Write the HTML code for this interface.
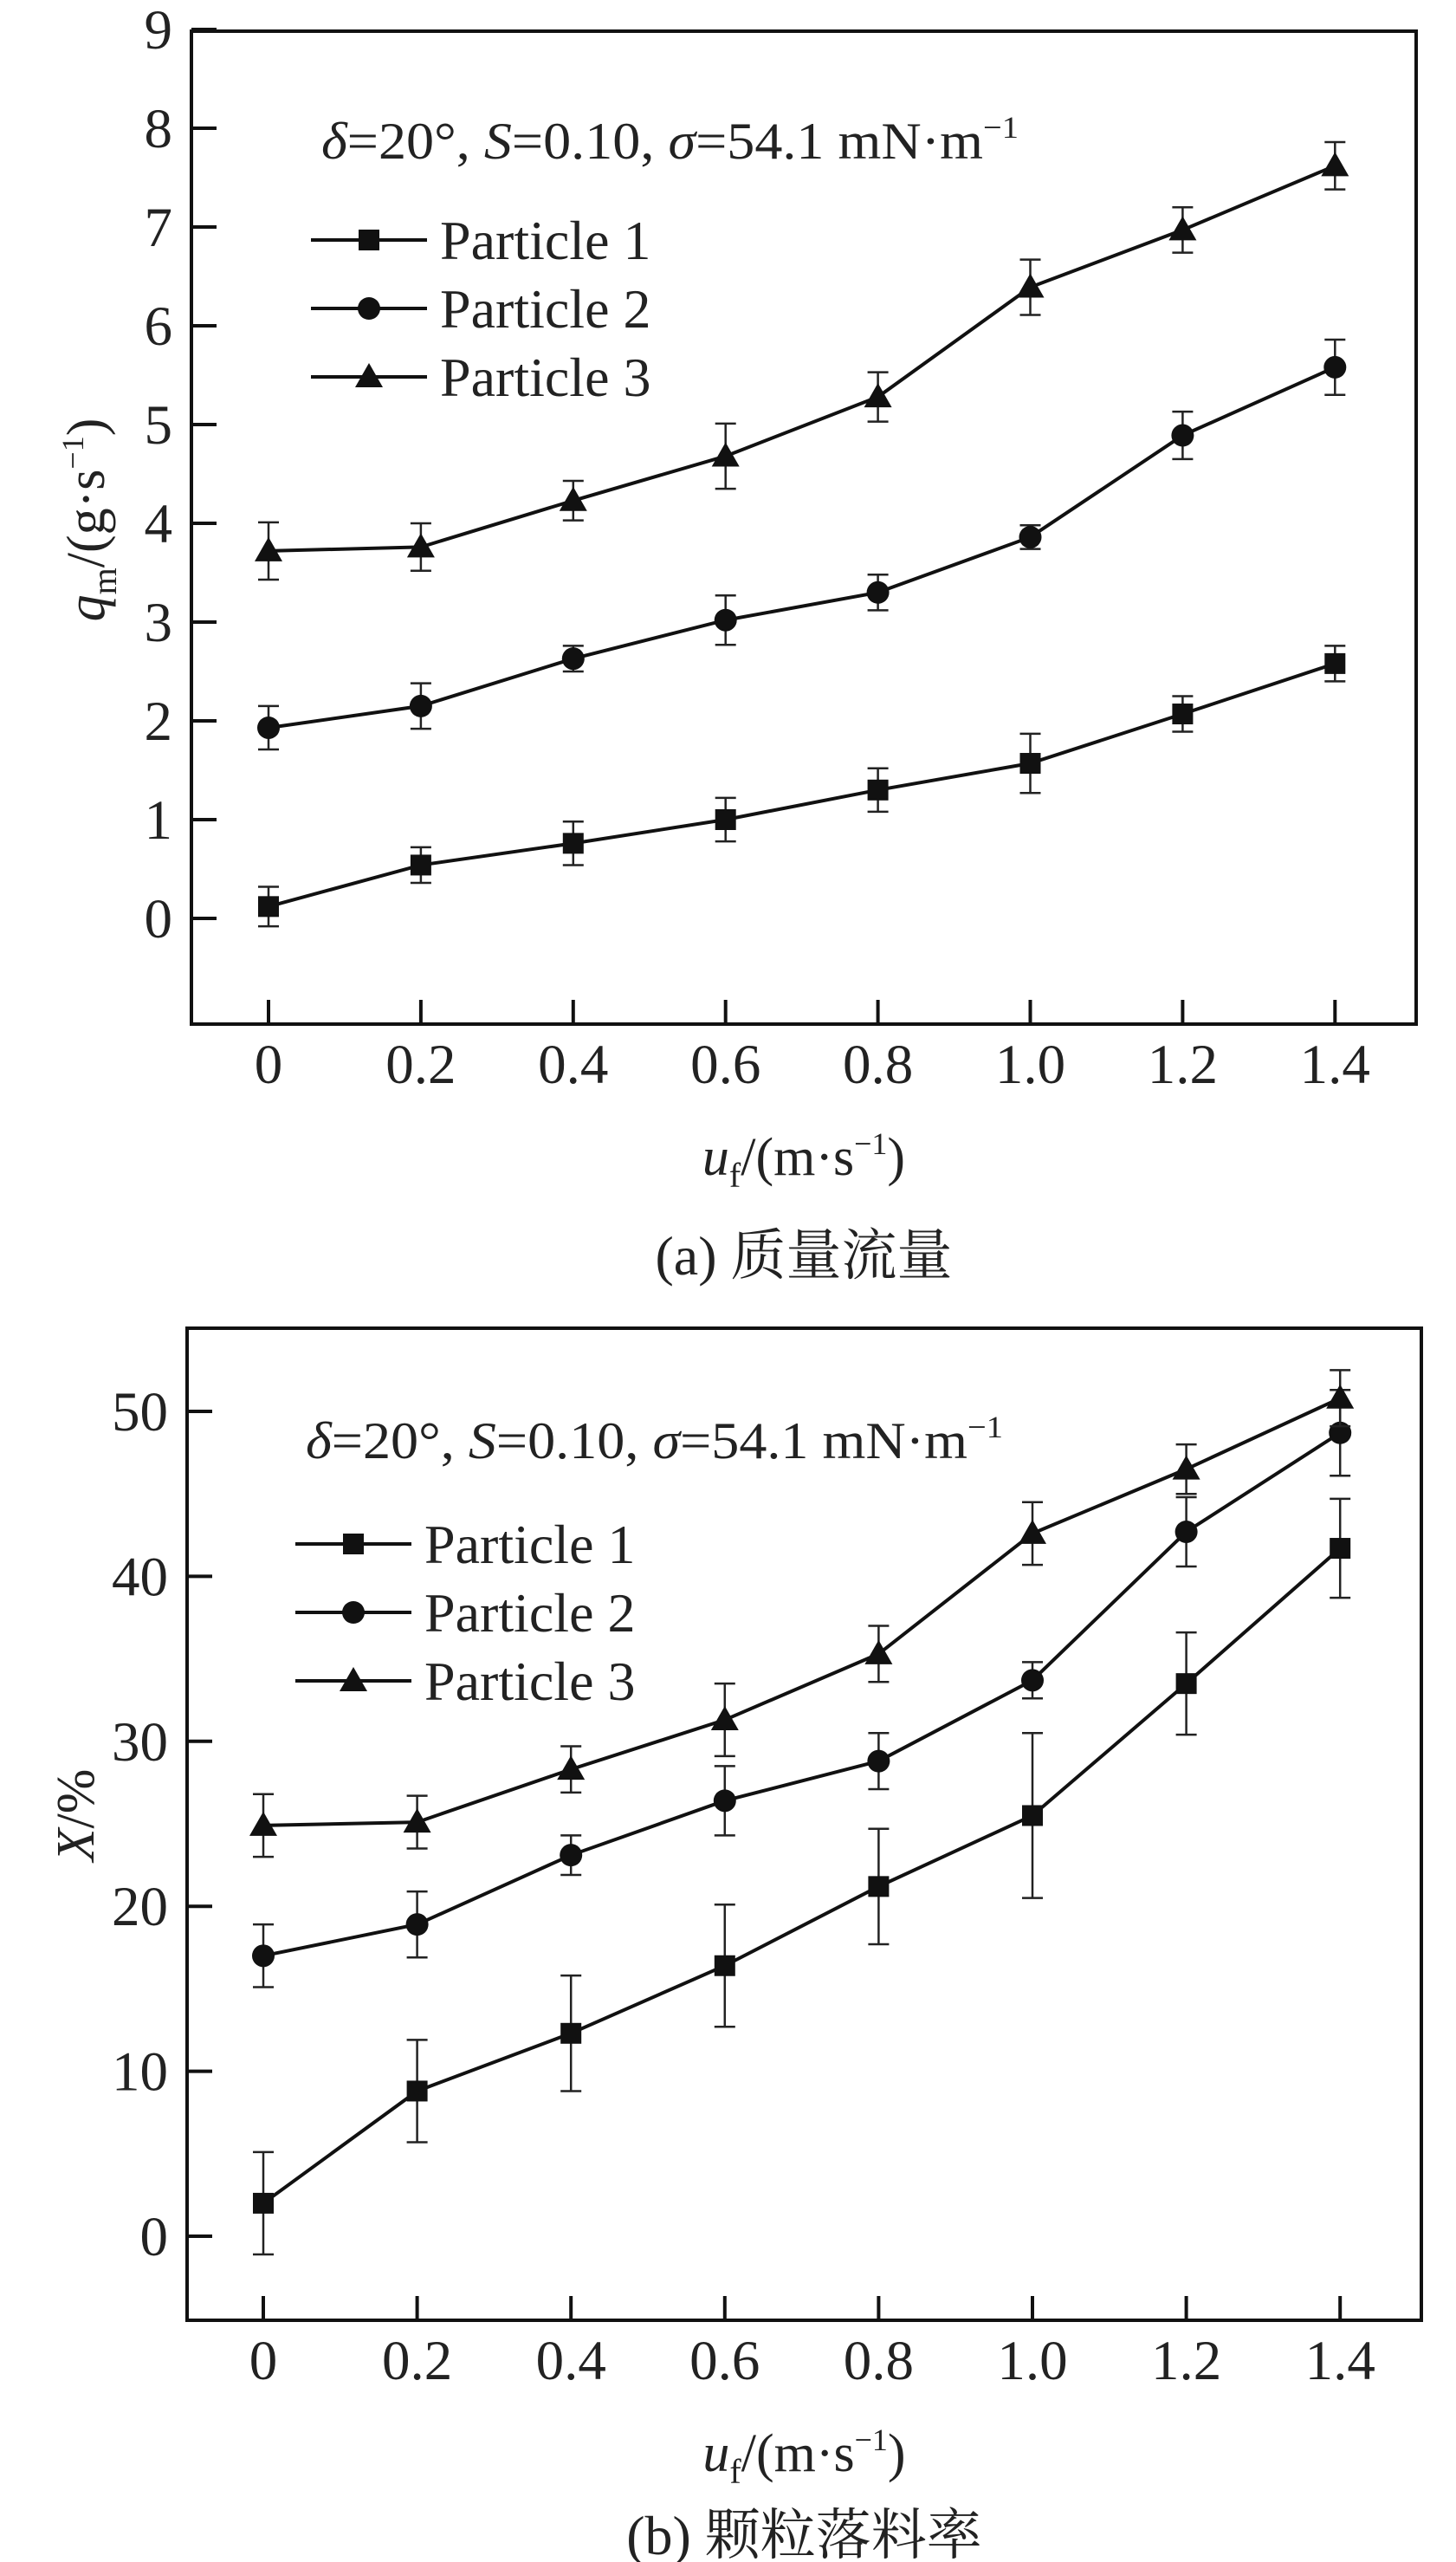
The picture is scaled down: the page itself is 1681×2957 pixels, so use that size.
<!DOCTYPE html>
<html><head><meta charset="utf-8"><style>
html,body{margin:0;padding:0;background:#fff;}
svg{display:block;font-family:"Liberation Serif","Noto Serif CJK SC",serif;}
</style></head><body>
<svg id="chart" width="1681" height="2957" viewBox="0 0 1681 2957" xmlns="http://www.w3.org/2000/svg">
<g id="pa"></g>
<g id="pb"></g>
</svg>
<script>
const xCats = [0, 0.2, 0.4, 0.6, 0.8, 1.0, 1.2, 1.4];
const xTickLabels = ["0","0.2","0.4","0.6","0.8","1.0","1.2","1.4"];
const seriesNames = ["Particle 1","Particle 2","Particle 3"];
// Panel a: q_m (g/s)
const aP1 = [0.12, 0.54, 0.76, 1.00, 1.30, 1.57, 2.07, 2.58];
const aP2 = [1.93, 2.15, 2.63, 3.02, 3.30, 3.86, 4.89, 5.58];
const aP3 = [3.72, 3.76, 4.23, 4.68, 5.28, 6.39, 6.97, 7.62];
const aE1 = [0.20, 0.18, 0.22, 0.22, 0.22, 0.30, 0.18, 0.18];
const aE2 = [0.22, 0.23, 0.13, 0.25, 0.18, 0.12, 0.24, 0.28];
const aE3 = [0.29, 0.24, 0.20, 0.33, 0.25, 0.28, 0.23, 0.24];
const aYTicks = [0,1,2,3,4,5,6,7,8,9];
// Panel b: X (%)
const bP1 = [2.0, 8.8, 12.3, 16.4, 21.2, 25.5, 33.5, 41.7];
const bP2 = [17.0, 18.9, 23.1, 26.4, 28.8, 33.7, 42.7, 48.7];
const bP3 = [24.9, 25.1, 28.3, 31.3, 35.3, 42.6, 46.5, 50.8];
const bE1 = [3.1, 3.1, 3.5, 3.7, 3.5, 5.0, 3.1, 3.0];
const bE2 = [1.9, 2.0, 1.2, 2.1, 1.7, 1.1, 2.1, 2.6];
const bE3 = [1.9, 1.6, 1.4, 2.2, 1.7, 1.9, 1.5, 1.7];
const bYTicks = [0,10,20,30,40,50];

const NS = "http://www.w3.org/2000/svg";
function mk(parent, tag, attrs, text){
  const e = document.createElementNS(NS, tag);
  for (const k in attrs) e.setAttribute(k, attrs[k]);
  if (text !== undefined) e.textContent = text;
  parent.appendChild(e); return e;
}
function marker(g, kind, cx, cy){
  let m;
  if (kind===0) m = mk(g,"rect",{x:cx-12,y:cy-12,width:24,height:24,fill:"#111"});
  else if (kind===1) m = mk(g,"circle",{cx:cx,cy:cy,r:13,fill:"#111"});
  else m = mk(g,"polygon",{points:`${cx},${cy-16} ${cx+16},${cy+12} ${cx-16},${cy+12}`,fill:"#111"});
  return m;
}

function panel(g, cfg){
  const L=cfg.L,R=cfg.R,T=cfg.T,B=cfg.B;
  const xS = v => cfg.x0 + v/0.2*cfg.xstep;
  const yS = v => cfg.y0 - v*cfg.ypu;
  const fr = mk(g,"rect",{x:L,y:T,width:R-L,height:B-T,fill:"none",stroke:"#111","stroke-width":4});
  
  
  cfg.yTicks.forEach(v=>{
    const y=yS(v);
    const t=mk(g,"line",{x1:L,y1:y,x2:L+29,y2:y,stroke:"#111","stroke-width":4});
    
    
    const lb=mk(g,"text",{x:L-22,y:y+22,"text-anchor":"end","font-size":65,fill:"#222"},String(v));
    
    
  });
  xCats.forEach((v,i)=>{
    const x=xS(v);
    const t=mk(g,"line",{x1:x,y1:B-28,x2:x,y2:B,stroke:"#111","stroke-width":4});
    
    
    const lb=mk(g,"text",{x:x,y:B+68,"text-anchor":"middle","font-size":65,fill:"#222"},xTickLabels[i]);
    
    
  });
  cfg.series.forEach((vals,si)=>{
    const sg=mk(g,"g",{});
    
    
    const pts=vals.map((v,i)=>xS(xCats[i])+","+yS(v)).join(" ");
    const pl=mk(sg,"polyline",{points:pts,fill:"none",stroke:"#111","stroke-width":4});
    
    
    vals.forEach((v,i)=>{
      const x=xS(xCats[i]), e=cfg.errs[si][i];
      const y1=yS(v+e), y2=yS(v-e);
      const eb=mk(sg,"path",{d:`M${x},${y1}V${y2}M${x-12},${y1}H${x+12}M${x-12},${y2}H${x+12}`,stroke:"#222","stroke-width":2.5,fill:"none"});
      
      
      const m=marker(sg,si,x,yS(v));
      
      
    });
  });
  const an=mk(g,"text",{x:cfg.annX,y:cfg.annY,"font-size":60,fill:"#222",textLength:805,lengthAdjust:"spacingAndGlyphs"});
  
  
  an.innerHTML='<tspan font-style="italic">δ</tspan>=20°, <tspan font-style="italic">S</tspan>=0.10,  <tspan font-style="italic">σ</tspan>=54.1 mN·m<tspan font-size="36" dy="-24">−1</tspan>';
  seriesNames.forEach((n,i)=>{
    const y=cfg.legY+i*cfg.legDy;
    const lg=mk(g,"g",{});
    
    
    mk(lg,"line",{x1:cfg.legX,y1:y,x2:cfg.legX+134,y2:y,stroke:"#111","stroke-width":4});
    marker(lg,i,cfg.legX+67,y);
    mk(lg,"text",{x:cfg.legX+149,y:y+22,"font-size":64,fill:"#222"},n);
  });
  const yt=mk(g,"text",{x:0,y:0,"font-size":62,fill:"#222","text-anchor":"middle",transform:`translate(${cfg.ytX},${cfg.ytY}) rotate(-90)`});
  
  
  yt.innerHTML=cfg.yTitle;
  const xt=mk(g,"text",{x:(L+R)/2,y:B+174,"font-size":62,fill:"#222","text-anchor":"middle"});
  
  
  xt.innerHTML='<tspan font-style="italic">u</tspan><tspan font-size="40" dy="14">f</tspan><tspan dy="-14">/(m·s</tspan><tspan font-size="36" dy="-24">−1</tspan><tspan dy="24">)</tspan>';
  const cp=mk(g,"text",{x:(L+R)/2,y:cfg.capY,"font-size":64,fill:"#222","text-anchor":"middle"},cfg.caption);
  
  
}

panel(document.getElementById('pa'),{
  L:221,R:1635,T:36,B:1182,x0:310,xstep:175.9,y0:1060,ypu:114,
  yTicks:aYTicks,series:[aP1,aP2,aP3],errs:[aE1,aE2,aE3],
  annX:371,annY:183,legX:359,legY:277,legDy:79,
  ytX:120,ytY:600,
  yTitle:'<tspan font-style="italic">q</tspan><tspan font-size="40" dy="14">m</tspan><tspan dy="-14">/(g·s</tspan><tspan font-size="36" dy="-24">−1</tspan><tspan dy="24">)</tspan>',
  capY:1471,caption:"(a) 质量流量"
});
panel(document.getElementById('pb'),{
  L:216,R:1641,T:1533,B:2678,x0:304,xstep:177.6,y0:2581,ypu:19.04,
  yTicks:bYTicks,series:[bP1,bP2,bP3],errs:[bE1,bE2,bE3],
  annX:353,annY:1683,legX:341,legY:1782,legDy:79,
  ytX:108,ytY:2095,
  yTitle:'<tspan font-style="italic">X</tspan>/%',
  capY:2948,caption:"(b) 颗粒落料率"
});
</script>
</body></html>
